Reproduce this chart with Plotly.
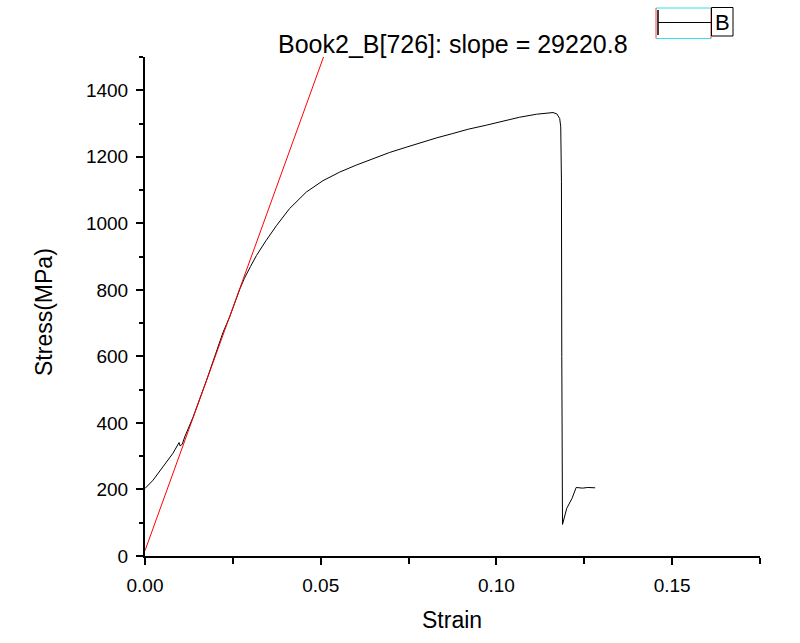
import plotly.graph_objects as go

# ---- data ----
strain = [0.0000, 0.0004, 0.0023, 0.0051, 0.0079, 0.0097, 0.0100, 0.0106, 0.0113,
          0.0137, 0.0175, 0.0222, 0.0241, 0.0270, 0.0283, 0.0300, 0.0317, 0.0345,
          0.0374, 0.0411, 0.0459, 0.0506, 0.0554, 0.0601, 0.0649, 0.0696, 0.0744,
          0.0781, 0.0830, 0.0876, 0.0920, 0.0971, 0.1020, 0.1066, 0.1114, 0.1140,
          0.1161, 0.1172, 0.1180, 0.1183, 0.1184, 0.1185, 0.1186, 0.1188, 0.1200,
          0.1215, 0.1227, 0.1245, 0.1260, 0.1281]
stress = [203, 207, 228, 268, 308, 341, 331, 336, 358,
          418, 528, 672, 719, 803, 835, 870, 903, 949,
          993, 1044, 1094, 1128, 1154, 1175, 1194, 1213, 1229,
          1242, 1257, 1270, 1283, 1295, 1308, 1319, 1328, 1331,
          1333, 1329, 1315, 1290, 1140, 1125, 600, 95, 143,
          173, 206, 204, 206, 205]

fit_strain = [0.0, 0.0508]
fit_stress = [16, 1500]

x_ticks = [0.0, 0.05, 0.10, 0.15]
x_ticktext = ["0.00", "0.05", "0.10", "0.15"]
y_ticks = [0, 200, 400, 600, 800, 1000, 1200, 1400]

title_text = "Book2_B[726]: slope = 29220.8"
legend_name = "B"

FONT = "Liberation Sans, Arial, sans-serif"

fig = go.Figure()
fig.add_trace(go.Scatter(x=strain, y=stress, mode="lines",
                         line=dict(color="black", width=1), name=legend_name,
                         showlegend=False))
fig.add_trace(go.Scatter(x=fit_strain, y=fit_stress, mode="lines",
                         line=dict(color="#ff0000", width=1), name="fit",
                         showlegend=False))

# plot area in pixels
L, R, T, B = 145, 760, 57, 556
W, H = 800, 643


def px(x):
    return (x - L) / (R - L)


def py(y):
    return (B - y) / (B - T)


shapes = []
# legend box decoration
shapes.append(dict(type="line", xref="paper", yref="paper", x0=px(656), x1=px(711),
                   y0=py(8), y1=py(8), line=dict(color="#33e0e8", width=1)))
shapes.append(dict(type="line", xref="paper", yref="paper", x0=px(656), x1=px(711),
                   y0=py(38.5), y1=py(38.5), line=dict(color="#33e0e8", width=1)))
shapes.append(dict(type="line", xref="paper", yref="paper", x0=px(656), x1=px(656),
                   y0=py(8), y1=py(38.5), line=dict(color="#ff4040", width=1)))
shapes.append(dict(type="line", xref="paper", yref="paper", x0=px(711), x1=px(711),
                   y0=py(8), y1=py(38.5), line=dict(color="#ff4040", width=1)))
shapes.append(dict(type="line", xref="paper", yref="paper", x0=px(658), x1=px(658),
                   y0=py(10), y1=py(35), line=dict(color="black", width=1.5)))
shapes.append(dict(type="line", xref="paper", yref="paper", x0=px(658), x1=px(711),
                   y0=py(22.5), y1=py(22.5), line=dict(color="black", width=1)))
shapes.append(dict(type="rect", xref="paper", yref="paper", x0=px(711.5), x1=px(733),
                   y0=py(7.5), y1=py(36), line=dict(color="black", width=1)))

annotations = [
    dict(text=legend_name, xref="paper", yref="paper", x=px(722.5), y=py(22),
         xanchor="center", yanchor="middle", showarrow=False,
         font=dict(family=FONT, size=22, color="black")),
    dict(text=title_text, xref="paper", yref="paper", x=px(453), y=py(43.5),
         xanchor="center", yanchor="middle", showarrow=False,
         font=dict(family=FONT, size=25, color="black")),
    dict(text="Strain", xref="paper", yref="paper", x=px(452), y=py(620),
         xanchor="center", yanchor="middle", showarrow=False,
         font=dict(family=FONT, size=23, color="black")),
    dict(text="Stress(MPa)", xref="paper", yref="paper", x=px(44), y=py(312),
         xanchor="center", yanchor="middle", showarrow=False, textangle=-90,
         font=dict(family=FONT, size=23, color="black")),
]

fig.update_layout(
    width=W, height=H,
    margin=dict(l=L, r=W - R, t=T, b=H - B, pad=0),
    paper_bgcolor="white", plot_bgcolor="white",
    shapes=shapes, annotations=annotations,
    font=dict(family=FONT, color="black"),
)
fig.update_xaxes(range=[0, 0.175], tickvals=x_ticks, ticktext=x_ticktext,
                 showgrid=False, zeroline=False, showline=True, linecolor="black",
                 linewidth=2, ticks="outside", ticklen=7, tickwidth=1.5,
                 tickcolor="black", tickfont=dict(family=FONT, size=19),
                 ticklabelstandoff=4,
                 minor=dict(dtick=0.025, tick0=0, ticks="outside", ticklen=6,
                            tickwidth=1.5, tickcolor="black", showgrid=False))
fig.update_yaxes(range=[0, 1500], tickvals=y_ticks,
                 showgrid=False, zeroline=False, showline=True, linecolor="black",
                 linewidth=2, ticks="outside", ticklen=7, tickwidth=1.5,
                 tickcolor="black", tickfont=dict(family=FONT, size=19),
                 ticklabelstandoff=4,
                 minor=dict(dtick=100, tick0=0, ticks="outside", ticklen=4,
                            tickwidth=1.5, tickcolor="black", showgrid=False))

fig.write_html("out.html", config={"displayModeBar": False},
               post_script="document.body.style.margin='0px';document.body.style.padding='0px';")
